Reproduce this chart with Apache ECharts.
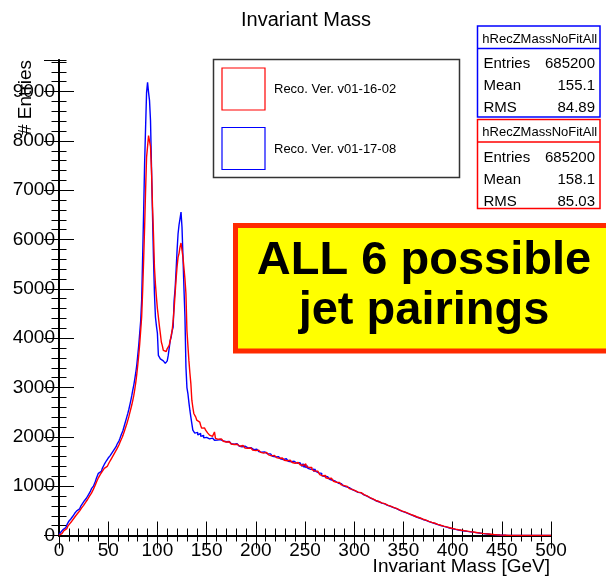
<!DOCTYPE html>
<html>
<head>
<meta charset="utf-8">
<title>Invariant Mass</title>
<script src="https://cdn.jsdelivr.net/npm/echarts@6/dist/echarts.min.js"></script>
<style>
  html, body { margin: 0; padding: 0; background: #fff; }
  #chart { width: 606px; height: 577px; }
</style>
</head>
<body>
<div id="chart"></div>
<script>
// Histogram range and binning (1 GeV bins from 0 to 500 GeV)
const massMin = 0;
const massMax = 500;
const binWidth = 1;
const yMax = 9640;

const xTickValues = [0, 50, 100, 150, 200, 250, 300, 350, 400, 450, 500];
const yTickValues = [0, 1000, 2000, 3000, 4000, 5000, 6000, 7000, 8000, 9000];

const seriesNames = ['Reco. Ver. v01-16-02', 'Reco. Ver. v01-17-08'];
const histName = 'hRecZMassNoFitAll';

// Bin contents, Reco. Ver. v01-17-08 (blue)
const countsV0117 = [
  20, 45, 70, 95, 120, 140, 160, 190, 215, 245,
  290, 310, 335, 360, 390, 420, 450, 460, 500, 520,
  540, 570, 590, 620, 650, 680, 710, 720, 760, 790,
  830, 860, 900, 950, 960, 1000, 1050, 1100, 1160, 1210,
  1260, 1230, 1300, 1330, 1360, 1400, 1440, 1480, 1510, 1550,
  1570, 1600, 1620, 1660, 1680, 1720, 1740, 1770, 1800, 1850,
  1880, 1920, 1970, 2030, 2080, 2130, 2200, 2270, 2340, 2410,
  2480, 2560, 2650, 2740, 2840, 2950, 3050, 3170, 3300, 3450,
  3650, 3850, 4100, 4350, 4770, 5640, 6555, 7540, 8275, 8985,
  9186, 8985, 8815, 8410, 7465, 6530, 5640, 4900, 4430, 4250,
  4100, 3650, 3620, 3580, 3550, 3540, 3500, 3490, 3460, 3450,
  3540, 3650, 3800, 3950, 4025, 4150, 4225, 4770, 5000, 5375,
  5780, 6117, 6300, 6425, 6555, 6250, 5640, 5000, 4430, 3417,
  3000, 2878, 2700, 2540, 2400, 2270, 2135, 2100, 2075, 2060,
  2090, 2040, 2020, 2068, 2010, 2000, 2030, 1980, 1974, 1990,
  1990, 2010, 1960, 1985, 1950, 1975, 1940, 1965, 1930, 1955,
  1935, 1960, 1925, 1945, 1905, 1935, 1920, 1895, 1930, 1900,
  1910, 1880, 1905, 1870, 1895, 1860, 1880, 1850, 1875, 1840,
  1860, 1830, 1855, 1815, 1845, 1800, 1830, 1795, 1810, 1785,
  1805, 1775, 1795, 1760, 1780, 1745, 1770, 1740, 1755, 1725,
  1750, 1720, 1735, 1700, 1725, 1690, 1705, 1675, 1695, 1660,
  1690, 1655, 1670, 1640, 1655, 1620, 1645, 1605, 1630, 1595,
  1620, 1585, 1600, 1570, 1590, 1555, 1575, 1540, 1565, 1530,
  1555, 1520, 1540, 1505, 1530, 1495, 1515, 1485, 1505, 1470,
  1500, 1465, 1480, 1450, 1475, 1440, 1460, 1400, 1455, 1380,
  1440, 1370, 1420, 1360, 1395, 1340, 1370, 1320, 1345, 1290,
  1350, 1300, 1310, 1270, 1285, 1240, 1260, 1215, 1235, 1195,
  1210, 1175, 1190, 1160, 1175, 1140, 1150, 1120, 1130, 1095,
  1100, 1080, 1090, 1060, 1070, 1040, 1050, 1020, 1030, 1005,
  1000, 985, 990, 965, 970, 945, 955, 930, 935, 915,
  905, 895, 895, 875, 880, 860, 865, 840, 845, 825,
  815, 805, 800, 785, 780, 765, 760, 745, 735, 725,
  715, 705, 700, 690, 685, 670, 670, 655, 650, 645,
  640, 630, 625, 610, 605, 595, 590, 580, 575, 565,
  560, 550, 545, 530, 525, 515, 510, 500, 490, 485,
  475, 470, 460, 450, 445, 435, 430, 420, 410, 405,
  395, 390, 380, 370, 365, 355, 350, 340, 335, 325,
  320, 312, 305, 298, 290, 283, 276, 270, 262, 256,
  250, 243, 236, 229, 222, 216, 210, 203, 197, 191,
  185, 180, 174, 169, 163, 158, 153, 147, 142, 137,
  132, 128, 124, 120, 116, 112, 108, 104, 101, 98,
  95, 92, 89, 86, 83, 80, 77, 75, 72, 70,
  68, 65, 62, 59, 56, 53, 51, 48, 45, 42,
  40, 38, 35, 33, 31, 29, 27, 25, 23, 21,
  20, 18, 16, 15, 13, 12, 10, 9, 8, 7,
  6, 5, 5, 4, 4, 3, 3, 3, 2, 2,
  2, 2, 1, 1, 1, 1, 1, 1, 0, 1,
  0, 0, 1, 0, 0, 0, 0, 0, 0, 0,
  0, 0, 0, 0, 0, 0, 0, 0, 0, 0,
  0, 0, 0, 0, 0, 0, 0, 0, 0, 0
];

// Bin contents, Reco. Ver. v01-16-02 (red)
const countsV0116 = [
  5, 20, 40, 60, 80, 100, 120, 140, 165, 190,
  215, 240, 265, 290, 320, 345, 370, 400, 420, 450,
  470, 500, 530, 560, 590, 610, 640, 670, 700, 730,
  760, 800, 830, 860, 900, 940, 980, 1030, 1080, 1120,
  1170, 1200, 1240, 1270, 1300, 1330, 1360, 1390, 1400, 1420,
  1430, 1480, 1510, 1550, 1580, 1620, 1650, 1690, 1720, 1760,
  1800, 1840, 1890, 1930, 1980, 2030, 2090, 2150, 2210, 2270,
  2340, 2410, 2490, 2570, 2650, 2740, 2840, 2960, 3100, 3260,
  3450, 3650, 3880, 4150, 4430, 4950, 5577, 6250, 7000, 7670,
  7885, 8107, 8107, 7885, 7400, 6690, 6117, 5440, 5100, 4833,
  4600, 4430, 4250, 4093, 3923, 3850, 3755, 3720, 3730, 3750,
  3790, 3820, 3856, 3950, 4050, 4160, 4350, 4600, 4900, 5200,
  5450, 5640, 5720, 5850, 5930, 5900, 5640, 5640, 5200, 4900,
  4160, 3850, 3550, 3300, 3080, 2743, 2600, 2474, 2480, 2400,
  2338, 2330, 2300, 2270, 2230, 2176, 2200, 2180, 2150, 2135,
  2135, 2080, 2060, 2035, 2070, 2010, 2040, 1990, 2100, 1970,
  1990, 1950, 1975, 1933, 1960, 1920, 1945, 1910, 1935, 1895,
  1920, 1885, 1900, 1865, 1890, 1855, 1875, 1845, 1870, 1830,
  1850, 1825, 1845, 1810, 1835, 1800, 1825, 1790, 1815, 1775,
  1800, 1770, 1790, 1755, 1775, 1745, 1765, 1730, 1750, 1720,
  1745, 1715, 1730, 1695, 1720, 1685, 1700, 1670, 1690, 1655,
  1685, 1650, 1665, 1635, 1650, 1615, 1640, 1600, 1625, 1590,
  1615, 1580, 1600, 1565, 1585, 1550, 1570, 1540, 1560, 1525,
  1550, 1515, 1535, 1500, 1525, 1490, 1510, 1480, 1500, 1465,
  1495, 1460, 1480, 1445, 1470, 1435, 1475, 1420, 1460, 1410,
  1450, 1395, 1430, 1380, 1405, 1360, 1380, 1335, 1355, 1305,
  1345, 1290, 1305, 1265, 1280, 1235, 1255, 1210, 1230, 1190,
  1215, 1170, 1195, 1155, 1180, 1140, 1160, 1120, 1140, 1100,
  1105, 1080, 1095, 1060, 1075, 1045, 1055, 1025, 1035, 1010,
  1005, 985, 995, 965, 975, 950, 960, 935, 940, 920,
  910, 895, 900, 880, 885, 860, 870, 845, 850, 830,
  820, 805, 805, 790, 785, 770, 765, 750, 740, 730,
  720, 710, 705, 695, 690, 675, 675, 660, 655, 650,
  645, 635, 630, 615, 610, 600, 595, 585, 580, 570,
  565, 555, 550, 535, 530, 520, 515, 505, 495, 490,
  480, 475, 465, 455, 450, 440, 435, 425, 415, 410,
  400, 395, 385, 375, 370, 360, 355, 345, 340, 330,
  325, 318, 310, 303, 295, 288, 281, 275, 267, 261,
  255, 248, 241, 234, 227, 221, 215, 208, 202, 196,
  190, 185, 179, 174, 168, 163, 158, 152, 147, 142,
  137, 133, 129, 125, 121, 117, 113, 109, 106, 103,
  100, 97, 94, 91, 88, 85, 82, 79, 76, 74,
  71, 68, 65, 62, 59, 56, 53, 50, 47, 44,
  42, 40, 37, 35, 33, 31, 29, 27, 25, 23,
  21, 19, 17, 16, 14, 13, 11, 10, 9, 8,
  7, 6, 5, 5, 4, 4, 3, 3, 3, 2,
  2, 2, 2, 1, 1, 1, 1, 1, 1, 0,
  1, 0, 0, 0, 1, 0, 0, 0, 0, 0,
  0, 0, 0, 0, 0, 0, 0, 0, 0, 0,
  0, 0, 0, 0, 0, 0, 0, 0, 0, 0
];

// Statistics box contents
const statsV0117 = [['Entries', '685200'], ['Mean', '155.1'], ['RMS', '84.89']];
const statsV0116 = [['Entries', '685200'], ['Mean', '158.1'], ['RMS', '85.03']];

const bannerLines = ['ALL 6 possible', 'jet pairings'];

// ---------------------------------------------------------------------------
const FONT = '"Liberation Sans", Arial, Helvetica, sans-serif';
const RED = '#ff0000';
const BLUE = '#0000ff';

// Turn bin contents into step-outline points placed at the bin low edges
function histOutline(counts) {
  const pts = counts.map((c, i) => [massMin + i * binWidth, c]);
  pts.push([massMin + counts.length * binWidth, counts[counts.length - 1]]);
  return pts;
}

const frameLine = { show: true, lineStyle: { color: '#000', width: 1.5 } };
const noLine = { show: false };

function xAxisDef(position, interval, tickLen, showLabel) {
  return {
    type: 'value', gridIndex: 0, position: position,
    min: massMin, max: massMax, interval: interval,
    axisLine: showLabel !== null ? frameLine : noLine,
    axisTick: { show: true, inside: true, length: tickLen, lineStyle: { color: '#000', width: 1 } },
    axisLabel: showLabel ? { show: true, fontFamily: FONT, fontSize: 19, color: '#000', margin: 6,
      formatter: v => (xTickValues.indexOf(v) >= 0 ? String(v) : '') } : { show: false },
    splitLine: { show: false }
  };
}

function yAxisDef(position, interval, tickLen, showLabel) {
  return {
    type: 'value', gridIndex: 0, position: position,
    min: 0, max: yMax, interval: interval,
    axisLine: showLabel !== null ? frameLine : noLine,
    axisTick: { show: true, inside: true, length: tickLen, lineStyle: { color: '#000', width: 1 } },
    axisLabel: showLabel ? { show: true, fontFamily: FONT, fontSize: 19, color: '#000', margin: 4,
      showMaxLabel: false,
      formatter: v => (yTickValues.indexOf(v) >= 0 ? String(v) : '') } : { show: false },
    splitLine: { show: false }
  };
}

// Stats box drawn as graphic elements
function statsBox(top, height, color, rows) {
  const left = 477.5, width = 122.5;
  const els = [
    { type: 'rect', z: 100, shape: { x: left, y: top, width: width, height: height },
      style: { fill: '#fff', stroke: color, lineWidth: 1.5 } },
    { type: 'line', z: 101, shape: { x1: left, y1: top + 22.5, x2: left + width, y2: top + 22.5 },
      style: { stroke: color, lineWidth: 1.5 } },
    { type: 'text', z: 101, x: left + width / 2 + 1, y: top + 13,
      style: { text: histName, fontFamily: FONT, fontSize: 13, fill: '#000', align: 'center', verticalAlign: 'middle' } }
  ];
  rows.forEach((r, i) => {
    const y = top + 38 + i * 22;
    els.push({ type: 'text', z: 101, x: left + 6, y: y,
      style: { text: r[0], fontFamily: FONT, fontSize: 15, fill: '#000', align: 'left', verticalAlign: 'middle' } });
    els.push({ type: 'text', z: 101, x: left + width - 5, y: y,
      style: { text: r[1], fontFamily: FONT, fontSize: 15, fill: '#000', align: 'right', verticalAlign: 'middle' } });
  });
  return els;
}

const legendEls = [
  { type: 'rect', z: 100, shape: { x: 213.5, y: 59.5, width: 246, height: 118 },
    style: { fill: '#fff', stroke: '#333', lineWidth: 1.5 } },
  { type: 'rect', z: 101, shape: { x: 222, y: 68, width: 43, height: 42 },
    style: { fill: 'none', stroke: RED, lineWidth: 1.2 } },
  { type: 'text', z: 101, x: 274, y: 89.5,
    style: { text: seriesNames[0], fontFamily: FONT, fontSize: 13, fill: '#000', align: 'left', verticalAlign: 'middle' } },
  { type: 'rect', z: 101, shape: { x: 222, y: 127.5, width: 43, height: 42 },
    style: { fill: 'none', stroke: BLUE, lineWidth: 1.2 } },
  { type: 'text', z: 101, x: 274, y: 149.5,
    style: { text: seriesNames[1], fontFamily: FONT, fontSize: 13, fill: '#000', align: 'left', verticalAlign: 'middle' } }
];

// Banner: text boxes are placed by their top edge (baselines near y = 280 and 330)
const bannerEls = [
  { type: 'rect', z: 110, shape: { x: 235.5, y: 225.5, width: 400, height: 125.5 },
    style: { fill: '#ffff00', stroke: '#ff2a00', lineWidth: 5 } },
  { type: 'text', z: 111, x: 424, y: 238,
    style: { text: bannerLines[0], fontFamily: FONT, fontWeight: 'bold', fontSize: 47, fill: '#000', align: 'center', verticalAlign: 'top' } },
  { type: 'text', z: 111, x: 424, y: 288,
    style: { text: bannerLines[1], fontFamily: FONT, fontWeight: 'bold', fontSize: 47, fill: '#000', align: 'center', verticalAlign: 'top' } }
];

const textEls = [
  { type: 'text', z: 50, x: 306, y: 20,
    style: { text: 'Invariant Mass', fontFamily: FONT, fontSize: 20, fill: '#000', align: 'center', verticalAlign: 'middle' } },
  { type: 'text', z: 50, x: 550, y: 567,
    style: { text: 'Invariant Mass [GeV]', fontFamily: FONT, fontSize: 19, fill: '#000', align: 'right', verticalAlign: 'middle' } },
  { type: 'text', z: 50, x: 26, y: 60, rotation: Math.PI / 2,
    style: { text: '# Entries', fontFamily: FONT, fontSize: 19, fill: '#000', align: 'right', verticalAlign: 'middle' } }
];

const chart = echarts.init(document.getElementById('chart'), null, { renderer: 'canvas' });
chart.setOption({
  animation: false,
  backgroundColor: '#fff',
  grid: { left: 59, right: 55, top: 60, bottom: 41.5, containLabel: false },
  xAxis: [
    xAxisDef('bottom', 50, 14, true),
    xAxisDef('bottom', 10, 7, false),
    xAxisDef('top', 50, 13, false),
    xAxisDef('top', 10, 6, false)
  ],
  yAxis: [
    yAxisDef('left', 1000, 15, true),
    yAxisDef('left', 200, 7.5, false),
    yAxisDef('right', 1000, 15, false),
    yAxisDef('right', 200, 7.5, false)
  ],
  series: [
    { name: seriesNames[1], type: 'line', xAxisIndex: 0, yAxisIndex: 0, step: 'end',
      showSymbol: false, symbol: 'none', data: histOutline(countsV0117),
      lineStyle: { color: BLUE, width: 1.4 }, itemStyle: { color: BLUE } },
    { name: seriesNames[0], type: 'line', xAxisIndex: 0, yAxisIndex: 0, step: 'end',
      showSymbol: false, symbol: 'none', data: histOutline(countsV0116),
      lineStyle: { color: RED, width: 1.4 }, itemStyle: { color: RED } }
  ],
  graphic: {
    elements: [].concat(
      textEls,
      legendEls,
      statsBox(26, 91, BLUE, statsV0117),
      statsBox(119.5, 89, RED, statsV0116),
      bannerEls
    )
  }
});
</script>
</body>
</html>
